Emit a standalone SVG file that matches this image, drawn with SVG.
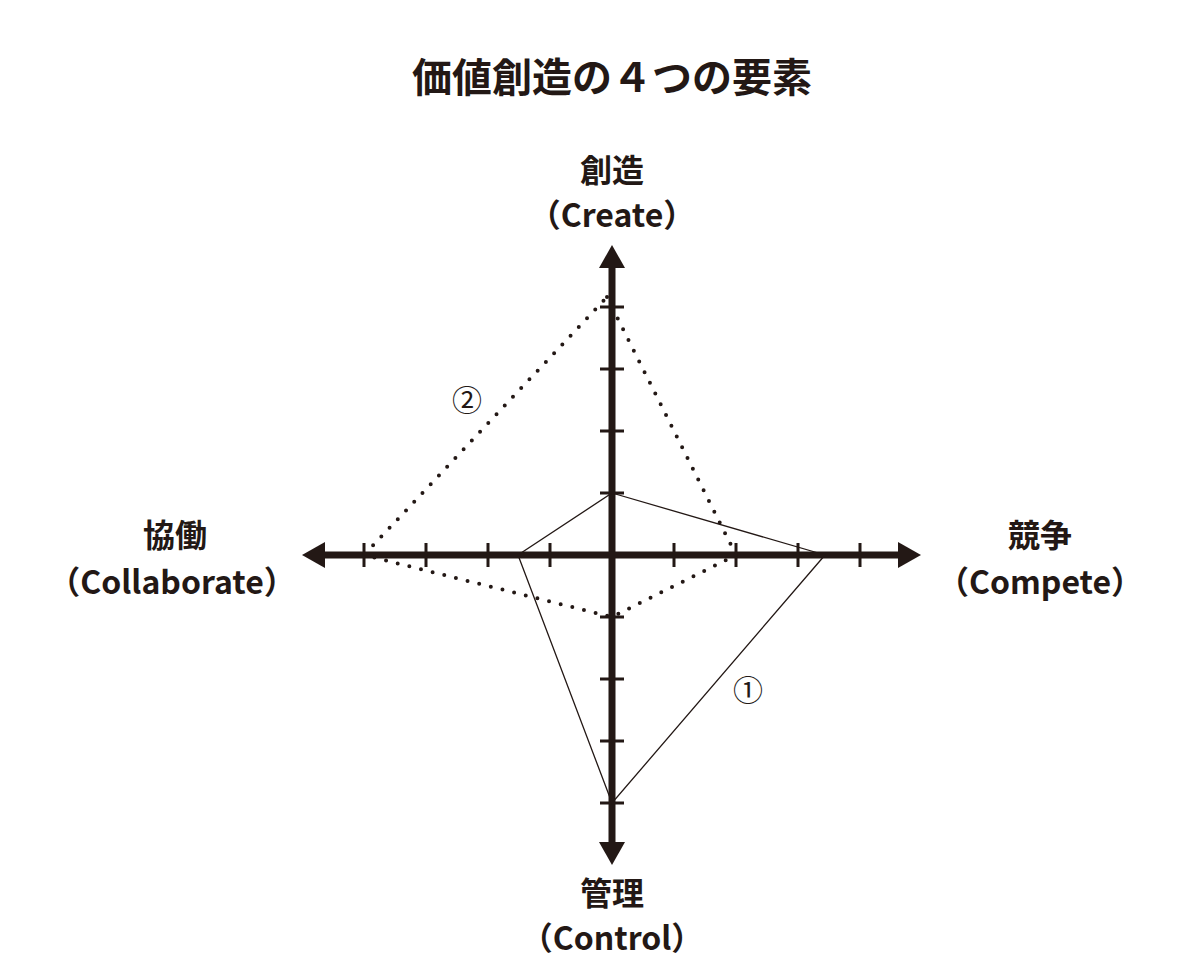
<svg xmlns="http://www.w3.org/2000/svg" width="1200" height="972" viewBox="0 0 1200 972">
<style>
text{font-family:"Noto Sans CJK JP","Noto Sans",sans-serif;fill:#231815;text-anchor:middle}
.t{font-size:40px;font-weight:bold}
.l{font-size:32px;font-weight:bold}
.n{font-size:30px}
.ax{stroke:#231815;stroke-width:7}
.tk{stroke:#231815;stroke-width:3}
.s{fill:none;stroke:#231815;stroke-width:1.3}
.d{fill:none;stroke:#231815;stroke-width:4;stroke-dasharray:0 12;stroke-linecap:round}
</style>
<rect width="1200" height="972" fill="#fff"/>
<text class="t" x="612" y="92">価値創造の４つの要素</text>
<g id="axes">
<line class="ax" x1="612" y1="262" x2="612" y2="848"/>
<line class="ax" x1="320" y1="555" x2="904" y2="555"/>
<polygon points="612,245 599,268 625,268" fill="#231815"/>
<polygon points="612,865 599,842 625,842" fill="#231815"/>
<polygon points="302,555 325,542 325,568" fill="#231815"/>
<polygon points="921,555 898,542 898,568" fill="#231815"/>
<path class="tk" d="M364,543v24M426,543v24M488,543v24M550,543v24M674,543v24M736,543v24M798,543v24M860,543v24M600,307h24M600,369h24M600,431h24M600,493h24M600,617h24M600,679h24M600,741h24M600,803h24"/>
</g>
<g id="connectors">
<polygon class="s" points="612,493 825,555 612,803 518,555"/>
<polygon class="d" points="607,297 736,555 612,617 364,555"/>
</g>
<g id="n-create"><text class="l" x="612" y="182">創造</text><text class="l" x="612" y="227">（Create）</text></g>
<g id="n-collab"><text class="l" x="175" y="547">協働</text><text class="l" x="172" y="594">（Collaborate）</text></g>
<g id="n-compete"><text class="l" x="1040" y="547">競争</text><text class="l" x="1040" y="594">（Compete）</text></g>
<g id="n-control"><text class="l" x="612" y="905">管理</text><text class="l" x="612" y="950">（Control）</text></g>
<g id="n-1"><text class="n" x="748" y="701">①</text></g>
<g id="n-2"><text class="n" x="467" y="411">②</text></g>
</svg>
